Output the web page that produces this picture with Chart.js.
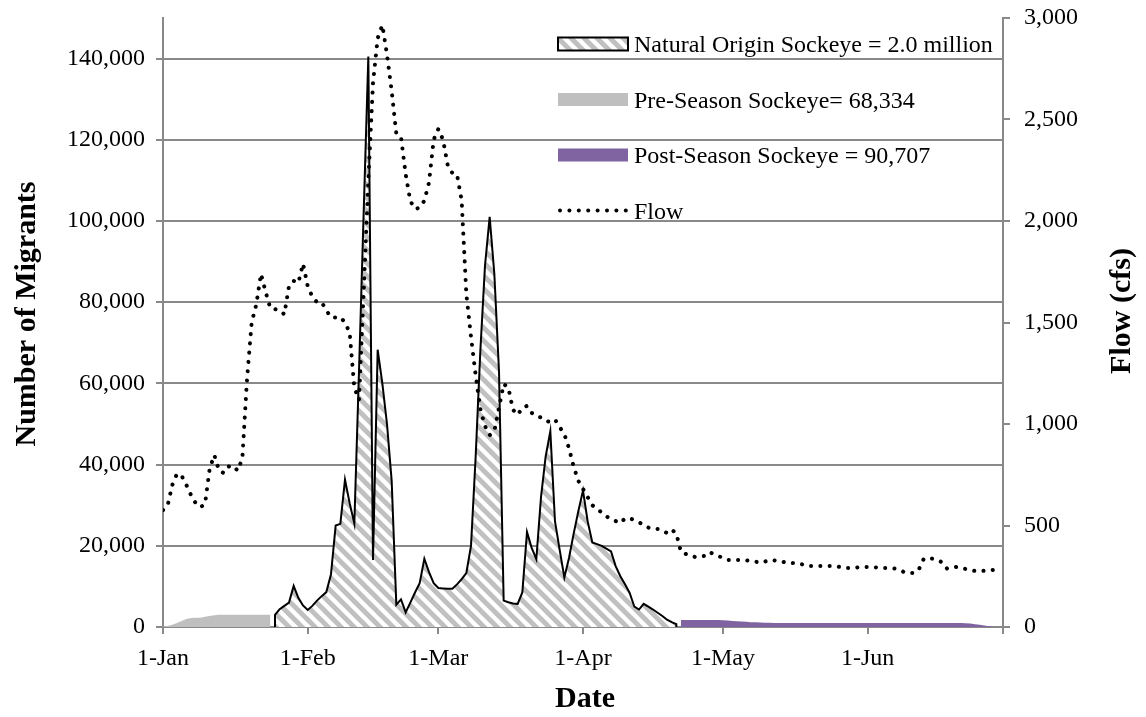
<!DOCTYPE html>
<html>
<head>
<meta charset="utf-8">
<script src="https://cdn.jsdelivr.net/npm/chart.js@4.4.0/dist/chart.umd.min.js"></script>
<style>
  html, body { margin: 0; padding: 0; background: #fff; }
  #wrap { width: 1146px; height: 717px; position: relative; }
</style>
</head>
<body>
<div id="wrap"><canvas id="graphique"></canvas></div>
<script>
// day 0 = 1-Jan, one value per day
const monthTicks = [0, 31, 59, 90, 120, 151, 180];
const monthLabels = ['1-Jan', '1-Feb', '1-Mar', '1-Apr', '1-May', '1-Jun', ''];
const leftTicks = [0, 20000, 40000, 60000, 80000, 100000, 120000, 140000];
const rightTicks = [0, 500, 1000, 1500, 2000, 2500, 3000];

const preStart = 0;
const preValues = [100, 250, 550, 1000, 1500, 2000, 2200, 2250, 2300, 2500, 2700, 2900,
  3000, 3000, 3000, 3000, 3000, 3000, 3000, 3000, 3000, 3000, 3000, 3000];

const natStart = 24;
const natValues = [3000, 4400, 5200, 6000, 10100, 7200, 5300, 4200, 5200, 6500,
  7600, 8600, 13000, 25000, 25400, 36300, 30500, 25500, 63000, 102000,
  140500, 16500, 68300, 60000, 50000, 36000, 5500, 6800, 3600, 6000,
  8500, 10800, 16800, 13500, 10800, 9600, 9500, 9400, 9400, 10500,
  11800, 13300, 20000, 42000, 68000, 89000, 101000, 87000, 63000, 6500,
  6100, 5800, 5700, 8500, 23400, 19500, 16700, 32000, 42000, 48200,
  26000, 19000, 12200, 17000, 23000, 28500, 33600, 26000, 20800, 20400,
  20000, 19300, 18600, 15000, 12500, 10500, 8400, 5000, 4300, 5700,
  5000, 4300, 3500, 2700, 1800, 1200, 700];

const postStart = 111;
const postValues = [1700, 1700, 1700, 1700, 1700, 1700, 1700, 1700, 1700, 1650,
  1580, 1500, 1420, 1350, 1280, 1200, 1150, 1100, 1070, 1050,
  1000, 1000, 1000, 1000, 1000, 1000, 1000, 1000, 1000, 1000,
  1000, 1000, 1000, 1000, 1000, 1000, 1000, 1000, 1000, 1000,
  1000, 1000, 1000, 1000, 1000, 1000, 1000, 1000, 1000, 1000,
  1000, 1000, 1000, 1000, 1000, 1000, 1000, 1000, 1000, 1000,
  1000, 950, 850, 700, 550, 400, 200, 50];

const flowStart = 0;
const flowValues = [576, 600, 700, 755, 745, 700, 650, 610, 590, 605,
  780, 847, 770, 759, 790, 795, 770, 830, 1220, 1500,
  1590, 1740, 1650, 1570, 1566, 1560, 1540, 1680, 1705, 1695,
  1790, 1680, 1626, 1600, 1600, 1560, 1525, 1525, 1527, 1500,
  1450, 1180, 1118, 1650, 2200, 2680, 2900, 2965, 2820, 2640,
  2430, 2414, 2230, 2098, 2059, 2065, 2100, 2190, 2400, 2453,
  2400, 2276, 2236, 2230, 2100, 1640, 1430, 1240, 1075, 990,
  945, 965, 1080, 1197, 1180, 1070, 1045, 1080, 1089, 1055,
  1040, 1032, 1015, 1010, 1022, 985, 950, 880, 790, 720,
  680, 640, 600, 581, 565, 545, 532, 522, 512, 535,
  535, 527, 515, 505, 490, 483, 483, 475, 463, 480,
  460, 369, 360, 352, 345, 348, 350, 369, 360, 350,
  340, 330, 330, 330, 330, 328, 325, 322, 316, 322,
  330, 328, 325, 320, 316, 315, 315, 308, 300, 300,
  300, 300, 300, 300, 300, 296, 291, 291, 291, 294,
  296, 296, 295, 293, 291, 291, 290, 287, 280, 268,
  266, 266, 285, 335, 340, 336, 330, 318, 288, 292,
  296, 290, 286, 280, 276, 276, 277, 279, 281];

const legendLabels = ['Natural Origin Sockeye = 2.0 million', 'Pre-Season Sockeye= 68,334',
  'Post-Season Sockeye = 90,707', 'Flow'];

const grisGrille = '#898989';
const police = '"Liberation Serif", "Times New Roman", serif';

function hachures() {
  const n = 13;
  const c = document.createElement('canvas');
  c.width = n; c.height = n;
  const g = c.getContext('2d');
  g.fillStyle = '#ffffff';
  g.fillRect(0, 0, n, n);
  g.strokeStyle = '#c0c0c0';
  g.lineWidth = 4.8;
  g.beginPath();
  g.moveTo(-n, -n); g.lineTo(2 * n, 2 * n);
  g.moveTo(-n, 0); g.lineTo(n, 2 * n);
  g.moveTo(0, -n); g.lineTo(2 * n, n);
  g.stroke();
  return g.createPattern(c, 'repeat');
}
const motif = hachures();

function points(start, values) {
  return values.map((v, i) => ({ x: start + i, y: v }));
}

const natPoints = [{ x: natStart, y: 0 }].concat(points(natStart, natValues),
  [{ x: natStart + natValues.length - 1, y: 0 }]);

// legend + axis titles drawn by hand
const decor = {
  id: 'decor',
  afterDatasetsDraw(chart) {
    const ctx = chart.ctx;
    ctx.save();
    const x0 = 558, w = 70, xt = 634;
    const rows = [44, 99.5, 155, 210.5];
    ctx.fillStyle = motif;
    ctx.fillRect(x0, rows[0] - 6.5, w, 13);
    ctx.strokeStyle = '#000'; ctx.lineWidth = 2;
    ctx.strokeRect(x0, rows[0] - 6.5, w, 13);
    ctx.fillStyle = '#bfbfbf';
    ctx.fillRect(x0, rows[1] - 6.5, w, 13);
    ctx.fillStyle = '#8064a2';
    ctx.fillRect(x0, rows[2] - 6.5, w, 13);
    ctx.fillStyle = '#000';
    for (let i = 0; i < 8; i += 1) {
      ctx.beginPath();
      ctx.arc(x0 + 2 + i * 9.4, rows[3], 2, 0, Math.PI * 2);
      ctx.fill();
    }
    ctx.font = '24px ' + police;
    ctx.textBaseline = 'alphabetic';
    ctx.textAlign = 'left';
    for (let i = 0; i < legendLabels.length; i += 1) {
      ctx.fillText(legendLabels[i], xt, rows[i] + 8);
    }

    // axis titles
    ctx.font = 'bold 30px ' + police;
    ctx.textAlign = 'center';
    ctx.textBaseline = 'middle';
    ctx.fillText('Date', 585, 699);
    ctx.save();
    ctx.translate(27, 314);
    ctx.rotate(-Math.PI / 2);
    ctx.fillText('Number of Migrants', 0, 0);
    ctx.restore();
    ctx.save();
    ctx.translate(1122, 311);
    ctx.rotate(-Math.PI / 2);
    ctx.fillText('Flow (cfs)', 0, 0);
    ctx.restore();
    ctx.restore();
  }
};

const config = {
  type: 'line',
  data: {
    datasets: [
      {
        label: 'Flow',
        data: points(flowStart, flowValues),
        yAxisID: 'y1',
        borderColor: '#000',
        borderWidth: 4,
        borderDash: [0.1, 9.2],
        borderCapStyle: 'round',
        pointRadius: 0,
        fill: false,
        order: 0
      },
      {
        label: legendLabels[0],
        data: natPoints,
        yAxisID: 'y',
        borderColor: '#000',
        borderWidth: 2,
        backgroundColor: motif,
        pointRadius: 0,
        fill: 'origin',
        order: 1
      },
      {
        label: legendLabels[1],
        data: points(preStart, preValues),
        yAxisID: 'y',
        borderWidth: 0,
        borderColor: 'rgba(0,0,0,0)',
        backgroundColor: '#bfbfbf',
        pointRadius: 0,
        fill: 'origin',
        order: 2
      },
      {
        label: legendLabels[2],
        data: points(postStart, postValues),
        yAxisID: 'y',
        borderWidth: 0,
        borderColor: 'rgba(0,0,0,0)',
        backgroundColor: '#8064a2',
        pointRadius: 0,
        fill: 'origin',
        order: 2
      }
    ]
  },
  options: {
    animation: false,
    responsive: true,
    maintainAspectRatio: false,
    layout: { padding: { top: 18, left: 0, right: 0, bottom: 0 } },
    plugins: {
      legend: { display: false },
      tooltip: { enabled: false }
    },
    elements: { line: { tension: 0 } },
    scales: {
      x: {
        type: 'linear',
        min: 0,
        max: 180,
        afterBuildTicks: (scale) => { scale.ticks = monthTicks.map(v => ({ value: v })); },
        afterFit: (scale) => { scale.height = 90; scale.paddingLeft = 0; scale.paddingRight = 0; },
        ticks: {
          autoSkip: false,
          maxRotation: 0,
          padding: 10,
          color: '#000',
          font: { family: police, size: 24 },
          callback: (v) => monthLabels[monthTicks.indexOf(v)]
        },
        grid: { drawOnChartArea: false, drawTicks: true, tickLength: 7, color: grisGrille, lineWidth: 2 },
        border: { color: grisGrille, width: 2 }
      },
      y: {
        position: 'left',
        min: 0,
        max: 150000,
        afterBuildTicks: (scale) => { scale.ticks = leftTicks.map(v => ({ value: v })); },
        afterFit: (scale) => { scale.width = 163; scale.paddingTop = 0; scale.paddingBottom = 0; },
        ticks: {
          padding: 11,
          color: '#000',
          font: { family: police, size: 24 },
          callback: (v) => v.toLocaleString('en-US')
        },
        grid: { color: grisGrille, lineWidth: 2, tickLength: 7 },
        border: { color: grisGrille, width: 2 }
      },
      y1: {
        position: 'right',
        min: 0,
        max: 3000,
        afterBuildTicks: (scale) => { scale.ticks = rightTicks.map(v => ({ value: v })); },
        afterFit: (scale) => { scale.width = 143; scale.paddingTop = 0; scale.paddingBottom = 0; },
        ticks: {
          padding: 14,
          color: '#000',
          font: { family: police, size: 24 },
          callback: (v) => v.toLocaleString('en-US')
        },
        grid: { drawOnChartArea: false, color: grisGrille, lineWidth: 2, tickLength: 7 },
        border: { color: grisGrille, width: 2 }
      }
    }
  },
  plugins: [decor]
};

const graphique = new Chart(document.querySelector('#graphique'), config);
</script>
</body>
</html>
